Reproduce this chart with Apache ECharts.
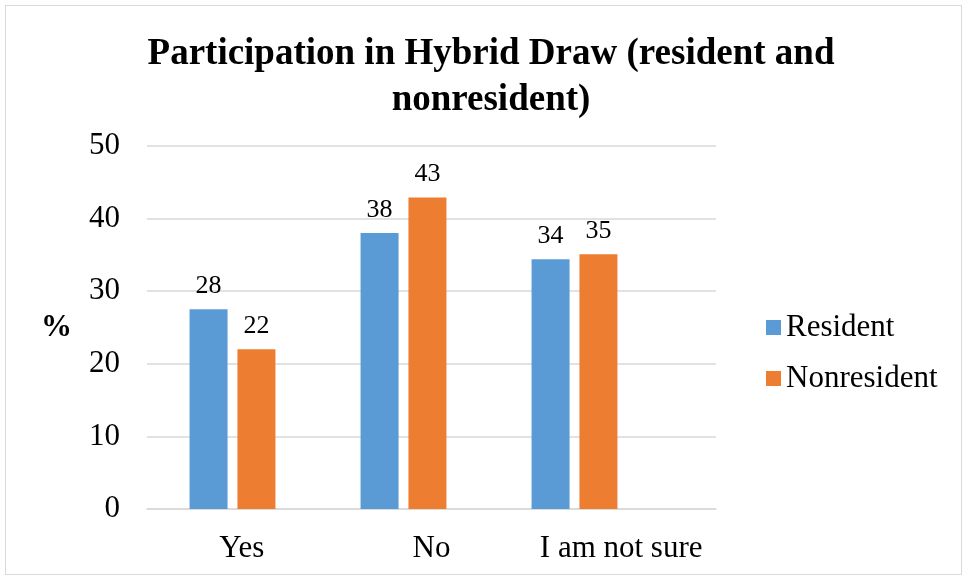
<!DOCTYPE html>
<html>
<head>
<meta charset="utf-8">
<script src="https://cdn.jsdelivr.net/npm/echarts@6/dist/echarts.min.js"></script>
<style>
  html, body { margin: 0; padding: 0; background: #fff; }
  #wrap { position: relative; width: 965px; height: 578px; }
  #chart { width: 965px; height: 578px; }
  #frame { position: absolute; left: 5px; top: 5px; right: 3px; bottom: 3px; border: 1px solid #d9d9d9; pointer-events: none; }
</style>
</head>
<body>
<div id="wrap">
  <div id="chart"></div>
  <div id="frame"></div>
</div>
<script>
const categories = ['Yes', 'No', 'I am not sure']
const residentValues = [27.5, 38.0, 34.4]
const nonresidentValues = [22.0, 42.9, 35.1]
// labels as printed on the chart (rounded)
const residentLabels = [28, 38, 34]
const nonresidentLabels = [22, 43, 35]
const yTicks = { min: 0, max: 50, interval: 10 }

const serif = '"Liberation Serif", "Times New Roman", serif'

const chart = echarts.init(document.getElementById('chart'))

function barSeries(name, values, labels, color) {
  return {
    name: name,
    type: 'bar',
    xAxisIndex: 1,
    yAxisIndex: 1,
    data: values,
    barWidth: 38,
    barGap: '26%',
    itemStyle: { color: color },
    label: {
      show: true,
      position: 'top',
      distance: 10,
      fontFamily: serif,
      fontSize: 26,
      color: '#000',
      formatter: (p) => String(labels[p.dataIndex])
    }
  }
}

chart.setOption({
  animation: false,
  textStyle: { fontFamily: serif },
  title: {
    text: 'Participation in Hybrid Draw (resident and\nnonresident)',
    left: 486,
    textAlign: 'center',
    top: 26,
    textStyle: {
      fontFamily: serif,
      fontWeight: 'bold',
      fontSize: 37,
      lineHeight: 46,
      color: '#000'
    }
  },
  legend: {
    orient: 'vertical',
    left: 761,
    top: 307,
    itemWidth: 15,
    itemHeight: 15,
    itemGap: 20,
    icon: 'rect',
    textStyle: { fontFamily: serif, fontSize: 31, lineHeight: 31, color: '#000' },
    data: ['Resident', 'Nonresident']
  },
  // grid 0 carries gridlines and labels, grid 1 the bars (narrower, as in the source)
  grid: [
    { left: 147, right: 249, top: 146, bottom: 69 },
    { left: 147, right: 305, top: 146, bottom: 69 }
  ],
  xAxis: [{
    type: 'category',
    gridIndex: 0,
    data: categories,
    axisLine: { lineStyle: { color: '#d9d9d9', width: 1.5 } },
    axisTick: { show: false },
    axisLabel: { interval: 0, fontFamily: serif, fontSize: 31, color: '#000', margin: 24 }
  }, {
    type: 'category',
    gridIndex: 1,
    data: categories,
    show: false
  }],
  yAxis: [{
    type: 'value',
    gridIndex: 0,
    min: yTicks.min,
    max: yTicks.max,
    interval: yTicks.interval,
    name: '%',
    nameLocation: 'middle',
    nameRotate: 0,
    nameGap: 75,
    nameTextStyle: { fontFamily: serif, fontWeight: 'bold', fontSize: 31, color: '#000' },
    axisLine: { show: false },
    axisTick: { show: false },
    splitLine: { lineStyle: { color: '#d9d9d9', width: 1.5 } },
    axisLabel: { fontFamily: serif, fontSize: 31, color: '#000', margin: 27 }
  }, {
    type: 'value',
    gridIndex: 1,
    min: yTicks.min,
    max: yTicks.max,
    interval: yTicks.interval,
    show: false,
    splitLine: { show: false }
  }],
  series: [
    barSeries('Resident', residentValues, residentLabels, '#5B9BD5'),
    barSeries('Nonresident', nonresidentValues, nonresidentLabels, '#ED7D31')
  ]
})
</script>
</body>
</html>
